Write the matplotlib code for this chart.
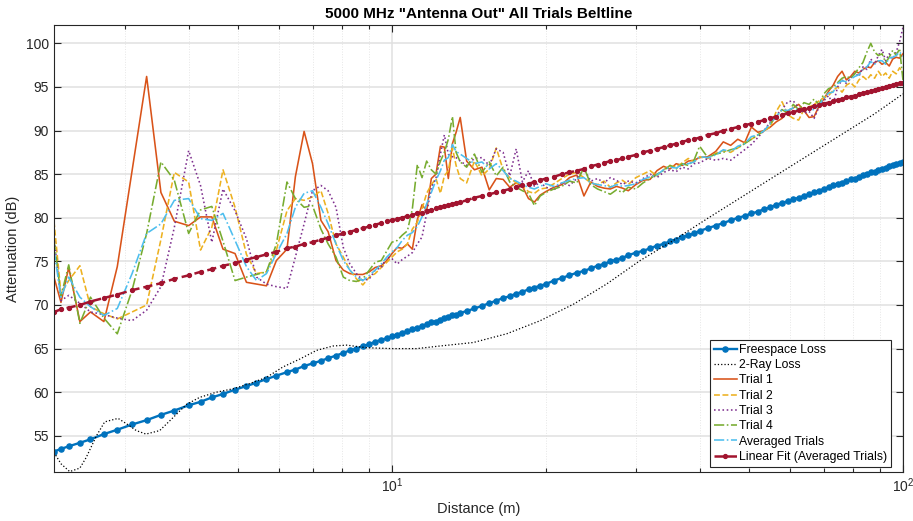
import numpy as np
import matplotlib
matplotlib.use("Agg")
import matplotlib.pyplot as plt
from matplotlib.ticker import NullFormatter, LogLocator

plt.rcParams['font.family'] = ['Liberation Sans', 'DejaVu Sans']

# distance points (m)
dist = [2.18, 2.25, 2.33, 2.45, 2.57, 2.73, 2.90, 3.10, 3.31, 3.53,
        3.75, 4.00, 4.22, 4.44, 4.67, 4.93, 5.19, 5.43, 5.68, 5.94,
        6.23, 6.47, 6.73, 6.99, 7.26, 7.50, 7.77, 8.03, 8.27, 8.52,
        8.77, 9.03, 9.27, 9.53, 9.77, 10.00, 10.24, 10.47, 10.72, 10.96,
        11.21, 11.45, 11.69, 11.94, 12.19, 12.44, 12.66, 12.89, 13.13, 13.35,
        13.60,
        14.0, 14.5, 15.0, 15.5, 16.0, 16.5, 17.0, 17.5, 18.0, 18.5,
        19.0, 19.5, 20.0, 20.75, 21.5, 22.25, 23.0, 23.75, 24.5, 25.25,
        26.0, 26.75, 27.5, 28.25, 29.0, 30.0, 31.0, 32.0, 33.0, 34.0,
        35.0, 36.0, 37.0, 38.0, 39.0, 40.0, 41.5, 43.0, 44.5, 46.0,
        47.5, 49.0, 50.5, 52.0, 53.5, 55.0, 56.5, 58.0, 59.5, 61.0,
        62.5, 64.0, 65.5, 67.0, 68.5, 70.0, 71.5, 73.0, 74.5, 76.0,
        77.5, 79.0, 80.5, 82.0, 83.5, 85.0, 86.5, 88.0, 89.5, 91.0,
        92.5, 94.0, 95.5, 97.0, 98.5, 100.0]

freespace = [53.2, 53.5, 53.8, 54.2, 54.6, 55.2, 55.7, 56.3, 56.8, 57.4,
             57.9, 58.5, 58.9, 59.4, 59.8, 60.3, 60.7, 61.1, 61.5, 61.9,
             62.3, 62.6, 63.0, 63.3, 63.6, 63.9, 64.2, 64.5, 64.8, 65.0,
             65.3, 65.5, 65.8, 66.0, 66.2, 66.4, 66.6, 66.8, 67.0, 67.2,
             67.4, 67.6, 67.8, 68.0, 68.1, 68.3, 68.5, 68.6, 68.8, 68.9,
             69.1,
             69.3, 69.6, 69.9, 70.2, 70.5, 70.8, 71.0, 71.3, 71.5, 71.8,
             72.0, 72.2, 72.4, 72.8, 73.1, 73.4, 73.7, 73.9, 74.2, 74.5,
             74.7, 75.0, 75.2, 75.4, 75.7, 76.0, 76.2, 76.5, 76.8, 77.0,
             77.3, 77.5, 77.8, 78.0, 78.2, 78.5, 78.8, 79.1, 79.4, 79.7,
             80.0, 80.2, 80.5, 80.7, 81.0, 81.2, 81.5, 81.7, 81.9, 82.1,
             82.3, 82.5, 82.7, 82.9, 83.1, 83.3, 83.5, 83.7, 83.9, 84.0,
             84.2, 84.4, 84.5, 84.7, 84.9, 85.0, 85.2, 85.3, 85.5, 85.6,
             85.7, 85.9, 86.0, 86.2, 86.3, 86.4]

# 2-ray model curve
dist_2ray = [2.18, 2.25, 2.34, 2.45, 2.52, 2.64, 2.74, 2.91, 3.02, 3.16,
             3.30, 3.51, 3.73, 3.96, 4.20, 4.53, 4.89, 5.27, 5.68, 6.12,
             6.60, 7.12, 7.67, 8.15, 8.92, 10.0, 11.18, 12.42, 14.43, 16.77,
             19.5, 22.67, 26.3, 30.6, 35.1, 41.4, 48.1, 55.9, 65.0, 75.6,
             87.9, 100.0]
loss_2ray = [53.1, 51.8, 50.9, 51.3, 52.5, 55.0, 56.6, 57.0, 56.4, 55.6,
             55.2, 55.6, 57.1, 58.6, 59.4, 60.0, 60.4, 61.0, 61.7, 62.9,
             63.8, 64.8, 65.3, 65.4, 65.1, 65.0, 65.0, 65.3, 65.7, 66.7,
             68.2, 70.1, 72.4, 75.1, 77.2, 79.9, 82.3, 84.7, 87.1, 89.5,
             91.9, 94.2]

trial1 = [73.2, 70.3, 74.3, 68.1, 69.2, 68.1, 74.4, 85.4, 96.2, 82.9,
          79.6, 79.1, 80.1, 80.1, 76.4, 75.9, 72.6, 72.4, 72.2, 75.1,
          76.4, 84.7, 89.9, 86.2, 79.7, 78.4, 75.1, 74.0, 73.6, 73.5,
          73.5, 73.8, 74.3, 74.5, 75.1, 75.9, 76.6, 76.5, 77.0, 76.4,
          79.8, 81.5, 80.8, 84.5, 85.0, 88.2, 88.1, 84.5, 88.5, 89.8,
          91.5,
          86.5, 85.5, 85.8, 83.2, 84.5, 84.4, 83.5, 84.0, 83.6, 82.2,
          81.8, 82.6, 83.0, 83.5, 83.8, 84.6, 84.9, 82.5, 84.1, 83.6,
          83.4, 83.3, 83.6, 83.4, 83.1, 83.8, 84.3, 84.4, 85.4, 85.9,
          85.6, 86.2, 86.0, 86.5, 86.6, 86.9, 87.0, 87.6, 88.7, 88.3,
          89.0, 88.6, 90.4, 89.8, 90.0, 90.4, 91.0, 91.4, 92.2, 92.6,
          93.0, 92.3, 91.5, 91.6, 92.8, 93.6, 94.5, 95.2, 96.2, 96.8,
          95.8, 96.2, 96.8, 96.6, 97.0, 97.3, 97.2, 97.8, 98.0, 97.6,
          97.8, 97.4, 98.2, 98.4, 98.3, 98.8]

trial2 = [79.6, 71.3, 72.8, 74.5, 69.8, 69.0, 68.4, 69.2, 70.0, 77.5,
          85.2, 84.1, 76.3, 78.9, 85.5, 81.2, 75.8, 73.6, 73.8, 76.3,
          80.8, 82.2, 82.0, 82.4, 83.1, 80.5, 77.0, 75.5, 74.0, 73.0,
          72.3, 73.2, 73.6, 74.3, 74.9, 75.5, 76.1, 76.4, 77.0, 78.7,
          79.5, 81.0, 82.8, 83.8, 84.5, 82.8, 84.8, 85.4, 88.0, 86.0,
          84.5,
          84.0, 86.5, 84.8, 85.6, 88.0, 85.5, 84.6, 84.0, 83.6, 83.0,
          82.8, 83.3, 83.4, 83.9, 84.5, 85.0, 85.2, 84.6, 84.0, 83.8,
          84.2, 83.5, 84.0, 84.3, 83.8, 84.6, 85.0, 85.4, 84.8, 85.5,
          86.0, 85.8, 86.3, 86.8, 86.4, 87.0, 86.8, 87.4, 87.7, 87.5,
          88.0, 88.6, 89.0, 89.5, 90.0, 90.4, 92.2, 93.3, 91.8, 91.4,
          91.2, 92.4, 92.7, 93.0, 93.4, 93.8, 94.0, 94.6, 95.0, 94.4,
          95.2, 95.5, 95.0, 95.8, 96.2, 95.8, 96.4, 96.0, 96.8, 96.2,
          96.6, 96.0, 96.8, 96.5, 97.2, 96.6]

trial3 = [77.8, 70.5, 71.1, 70.2, 69.2, 68.9, 68.5, 68.2, 69.4, 72.1,
          78.9, 87.7, 83.7, 77.2, 83.3, 80.8, 77.6, 73.2, 72.4, 72.1,
          71.9, 75.5, 79.3, 83.1, 83.7, 83.1, 81.2, 76.6, 74.7, 73.6,
          72.8, 73.0, 74.0, 74.3, 75.5, 75.3, 74.7, 75.2, 75.6, 76.0,
          77.0, 77.8, 80.5, 83.5, 84.5, 87.3, 89.5, 87.3, 87.0, 86.9,
          86.5,
          86.0, 86.8, 86.9, 86.0, 87.9, 87.5, 84.8, 87.9, 84.1, 85.4,
          83.6, 84.1, 83.5, 83.2, 84.0, 83.7, 84.5, 85.6, 84.2, 84.5,
          84.0, 84.6, 84.3, 83.8, 84.2, 84.0, 84.5, 85.0, 84.6, 85.2,
          85.5, 85.3, 85.8, 85.6, 86.2, 86.3, 86.8, 86.6, 86.8, 86.6,
          87.2, 87.8, 88.4, 89.2, 90.0, 91.0, 91.8, 92.4, 93.3, 93.4,
          92.6, 92.0, 92.2, 91.4, 92.7, 93.4, 94.0, 93.0, 95.0, 95.8,
          95.4, 96.0, 96.6, 96.2, 97.3, 97.0, 98.2, 97.6, 98.6, 99.3,
          98.0, 98.8, 98.2, 99.0, 100.2, 101.8]

trial4 = [77.5, 71.0, 74.6, 67.9, 70.9, 68.5, 66.7, 71.7, 78.2, 86.4,
          84.3, 78.2, 80.9, 81.3, 77.3, 72.8, 73.2, 73.5, 73.8, 77.0,
          84.1, 82.2, 81.2, 81.4, 78.7, 77.0, 75.5, 73.2, 72.8, 72.7,
          73.0, 74.0, 74.9, 75.1, 76.2, 77.2, 77.4, 78.0, 78.5, 81.0,
          86.1, 84.6, 86.5, 85.5, 85.0, 86.5, 87.5, 89.0, 91.6, 87.5,
          86.4,
          85.8, 87.3, 85.2, 86.4, 84.8, 85.8, 84.1, 83.5, 83.1, 82.8,
          81.4, 82.5, 82.9, 83.3, 83.6, 84.2, 84.0, 85.8, 83.8, 83.3,
          83.0, 82.7, 83.2, 82.9, 83.5, 83.3, 84.0, 84.5, 85.0, 85.4,
          86.0, 85.6, 86.2, 86.0, 86.6, 88.2, 86.9, 87.3, 87.5, 87.8,
          88.0, 88.5, 89.0, 89.5, 90.0, 90.8, 91.6, 92.4, 92.0, 93.0,
          92.4, 93.2, 93.0, 93.6, 93.0, 94.2, 94.8, 95.0, 95.5, 96.0,
          96.2, 96.0, 96.5, 97.2, 97.8, 99.0, 100.0, 99.0, 98.6, 98.8,
          97.8, 98.4, 99.2, 98.6, 99.4, 95.8]

averaged = [76.3, 70.9, 73.2, 70.9, 69.8, 68.8, 69.6, 73.6, 78.2, 79.3,
            82.0, 82.2, 79.9, 79.7, 80.5, 77.4, 74.4, 72.8, 73.6, 75.9,
            78.2, 81.2, 82.8, 83.1, 81.2, 79.3, 77.0, 75.1, 74.0, 73.2,
            72.8, 73.4, 74.0, 74.7, 75.5, 76.1, 76.6, 77.4, 78.0, 78.3,
            79.0, 80.1, 81.6, 82.9, 84.3, 85.4, 86.6, 86.9, 88.4, 87.6,
            87.3,
            86.8, 86.2, 86.4, 85.6, 86.2, 85.4, 84.5, 84.2, 83.8, 83.5,
            83.3, 83.6, 83.9, 83.6, 84.0, 84.3, 84.5, 84.6, 84.0, 83.8,
            83.7, 83.5, 83.8, 83.6, 83.7, 83.9, 84.4, 84.7, 84.9, 85.5,
            85.8, 85.7, 86.1, 86.2, 86.4, 87.0, 86.9, 87.2, 87.8, 87.6,
            88.2, 88.5, 89.3, 89.5, 90.0, 90.8, 91.6, 92.4, 92.3, 92.6,
            92.3, 92.5, 92.4, 92.4, 92.9, 93.7, 94.3, 94.4, 95.4, 95.7,
            95.6, 95.9, 96.2, 96.4, 97.0, 97.3, 97.9, 97.6, 98.0, 98.0,
            97.6, 98.3, 98.4, 98.6, 99.0, 98.5]

linear_fit = [69.2, 69.5, 69.7, 70.0, 70.4, 70.8, 71.2, 71.7, 72.1, 72.5,
              73.0, 73.4, 73.8, 74.1, 74.5, 74.8, 75.2, 75.5, 75.8, 76.1,
              76.5, 76.7, 77.0, 77.2, 77.5, 77.7, 78.0, 78.2, 78.4, 78.6,
              78.8, 79.0, 79.2, 79.4, 79.6, 79.7, 79.9, 80.0, 80.2, 80.3,
              80.5, 80.6, 80.8, 80.9, 81.1, 81.2, 81.3, 81.5, 81.6, 81.7,
              81.8,
              82.0, 82.3, 82.5, 82.7, 82.9, 83.1, 83.3, 83.5, 83.7, 83.9,
              84.1, 84.3, 84.5, 84.7, 85.0, 85.2, 85.4, 85.6, 85.9, 86.1,
              86.3, 86.5, 86.6, 86.8, 87.0, 87.2, 87.5, 87.7, 87.9, 88.1,
              88.3, 88.5, 88.7, 88.9, 89.0, 89.2, 89.5, 89.7, 90.0, 90.2,
              90.4, 90.6, 90.8, 91.0, 91.2, 91.4, 91.6, 91.8, 92.0, 92.1,
              92.3, 92.5, 92.6, 92.8, 92.9, 93.1, 93.2, 93.4, 93.5, 93.6,
              93.8, 93.9, 94.0, 94.2, 94.3, 94.4, 94.5, 94.6, 94.8, 94.9,
              95.0, 95.1, 95.2, 95.3, 95.4, 95.5]

fig = plt.figure(figsize=(9.13, 5.21), dpi=100)
ax = fig.add_axes([0.0591, 0.094, 0.9299, 0.858])

ax.plot(dist, freespace, '-o', color='#0072BD', lw=1.7, ms=3.7, label='Freespace Loss')
ax.plot(dist_2ray, loss_2ray, ':', color='black', lw=0.9, label='2-Ray Loss')
ax.plot(dist, trial1, '-', color='#D95319', lw=1.15, label='Trial 1')
ax.plot(dist, trial2, '--', color='#EDB120', lw=1.15, label='Trial 2')
ax.plot(dist, trial3, ':', color='#7E2F8E', lw=1.15, label='Trial 3')
ax.plot(dist, trial4, '-.', color='#77AC30', lw=1.15, label='Trial 4')
ax.plot(dist, averaged, '-.', color='#4DBEEE', lw=1.15, label='Averaged Trials')
ax.plot(dist, linear_fit, '--o', color='#A2142F', lw=1.8, ms=2.8, label='Linear Fit (Averaged Trials)')

ax.set_xscale('log')
ax.set_xlim(dist[0], 100)
ax.set_ylim(50.85, 102.1)
ax.set_yticks(np.arange(55, 101, 5))
ax.xaxis.set_major_locator(LogLocator(base=10))
ax.xaxis.set_minor_locator(LogLocator(base=10, subs=np.arange(2, 10)))
ax.xaxis.set_minor_formatter(NullFormatter())

ax.grid(True, which='major', color='#e0e0e0', lw=1.1)
ax.grid(True, which='minor', axis='x', color='#e6e6e6', lw=0.7, ls=':')
ax.set_axisbelow(True)

ax.tick_params(which='both', direction='in', top=True, right=True,
               colors='#262626', labelsize=10, width=0.8)
ax.tick_params(which='major', length=5)
ax.tick_params(which='minor', length=3)
for s in ax.spines.values():
    s.set_color('#262626')
    s.set_linewidth(0.8)

ax.set_title('5000 MHz "Antenna Out" All Trials Beltline', fontsize=11,
             fontweight='bold', pad=5)
ax.set_xlabel('Distance (m)', fontsize=10.5, color='#262626', labelpad=5)
ax.set_ylabel('Attenuation (dB)', fontsize=10.5, color='#262626', labelpad=4)

leg = ax.legend(loc='lower right', bbox_to_anchor=(0.986, 0.012), borderaxespad=0,
                fontsize=8.8, fancybox=False, framealpha=1, edgecolor='#262626',
                handlelength=1.9, handletextpad=0.2, labelspacing=0.27,
                borderpad=0.3)
leg.get_frame().set_linewidth(0.8)

fig.savefig('out.png', dpi=100)
